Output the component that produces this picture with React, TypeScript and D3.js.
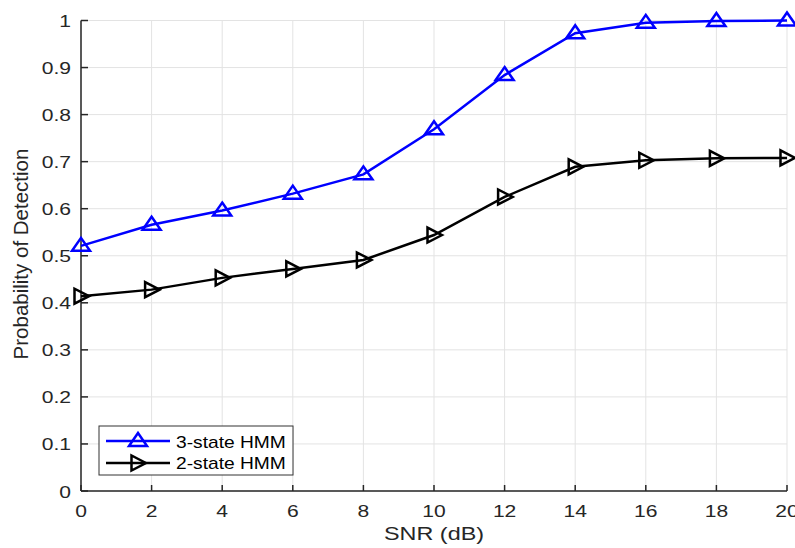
import React from "react";
import * as d3 from "d3";

const snr = [0, 2, 4, 6, 8, 10, 12, 14, 16, 18, 20];
const hmm3 = [0.521, 0.566, 0.596, 0.632, 0.673, 0.769, 0.884, 0.973, 0.995, 0.999, 1.0];
const hmm2 = [0.414, 0.428, 0.453, 0.472, 0.491, 0.544, 0.625, 0.689, 0.703, 0.707, 0.708];
const xTicks = [0, 2, 4, 6, 8, 10, 12, 14, 16, 18, 20];
const yTicks = [0, 0.1, 0.2, 0.3, 0.4, 0.5, 0.6, 0.7, 0.8, 0.9, 1];
const seriesNames = ["3-state HMM", "2-state HMM"];

const font = "Liberation Sans, Arial, sans-serif";
const SX = 1.24;

function SText(props: { x: number; y: number; size: number; anchor?: string; fill?: string; sx?: number; children: React.ReactNode }) {
  const { x, y, size, anchor = "start", fill = "#262626", sx = SX, children } = props;
  return (
    <text
      transform={`translate(${x},${y}) scale(${sx},1)`}
      textAnchor={anchor}
      fontFamily={font}
      fontSize={size}
      fill={fill}
    >
      {children}
    </text>
  );
}

export default function App() {
  const W = 795, H = 548;
  const left = 81, right = 787, top = 20.5, bottom = 491;
  const x = d3.scaleLinear().domain([0, 20]).range([left, right]);
  const y = d3.scaleLinear().domain([0, 1]).range([bottom, top]);
  const line = d3.line<number>().x((_, i) => x(snr[i])).y((d) => y(d));
  const axisColor = "#262626";
  const triUp = (cx: number, cy: number) =>
    `M${cx},${cy - 8} L${cx + 9},${cy + 5} L${cx - 9},${cy + 5} Z`;
  const triRight = (cx: number, cy: number) =>
    `M${cx + 8},${cy} L${cx - 6.5},${cy - 7.5} L${cx - 6.5},${cy + 7.5} Z`;

  return (
    <svg width={W} height={H} style={{ position: "absolute", left: 0, top: 0, background: "#fff" }}>
      <rect x={0} y={0} width={W} height={H} fill="#fff" />
      {xTicks.map((t) => (
        <line key={"gx" + t} x1={x(t)} x2={x(t)} y1={top} y2={bottom} stroke="#e3e3e3" strokeWidth={1} />
      ))}
      {yTicks.map((t) => (
        <line key={"gy" + t} x1={left} x2={right} y1={y(t)} y2={y(t)} stroke="#e3e3e3" strokeWidth={1} />
      ))}
      {/* axes */}
      <line x1={left} x2={left} y1={top} y2={bottom} stroke={axisColor} strokeWidth={1.5} />
      <line x1={left} x2={right} y1={bottom} y2={bottom} stroke={axisColor} strokeWidth={1.5} />
      {xTicks.map((t) => (
        <g key={"tx" + t}>
          <line x1={x(t)} x2={x(t)} y1={bottom} y2={bottom - 6} stroke={axisColor} strokeWidth={1.5} />
          <SText x={x(t)} y={517} size={17} anchor="middle">{t}</SText>
        </g>
      ))}
      {yTicks.map((t) => (
        <g key={"ty" + t}>
          <line x1={left} x2={left + 7} y1={y(t)} y2={y(t)} stroke={axisColor} strokeWidth={1.5} />
          <SText x={71} y={y(t) + 6.5} size={17} anchor="end">{d3.format("")(t)}</SText>
        </g>
      ))}
      <SText x={(left + right) / 2} y={540} size={18} anchor="middle" sx={1.3}>SNR (dB)</SText>
      <text
        transform={`translate(28,${254}) rotate(-90)`}
        textAnchor="middle"
        fontFamily={font}
        fontSize={20.5}
        fill={axisColor}
      >
        Probability of Detection
      </text>
      {/* series */}
      <path d={line(hmm3) || ""} fill="none" stroke="#0000ff" strokeWidth={2.5} />
      {hmm3.map((v, i) => (
        <path key={"m3" + i} d={triUp(x(snr[i]), y(v))} fill="none" stroke="#0000ff" strokeWidth={2.5} />
      ))}
      <path d={line(hmm2) || ""} fill="none" stroke="#000" strokeWidth={2.5} />
      {hmm2.map((v, i) => (
        <path key={"m2" + i} d={triRight(x(snr[i]), y(v))} fill="none" stroke="#000" strokeWidth={2.5} />
      ))}
      {/* legend */}
      <rect x={99} y={426} width={194} height={49} fill="#fff" stroke="#333" strokeWidth={1} />
      <line x1={106} x2={170} y1={441} y2={441} stroke="#0000ff" strokeWidth={2.5} />
      <path d={triUp(138, 441)} fill="none" stroke="#0000ff" strokeWidth={2.5} />
      <SText x={176} y={447.5} size={16} fill="#000" sx={1.2}>{seriesNames[0]}</SText>
      <line x1={106} x2={170} y1={463} y2={463} stroke="#000" strokeWidth={2.5} />
      <path d={triRight(138, 463)} fill="none" stroke="#000" strokeWidth={2.5} />
      <SText x={176} y={469} size={16} fill="#000" sx={1.2}>{seriesNames[1]}</SText>
    </svg>
  );
}
